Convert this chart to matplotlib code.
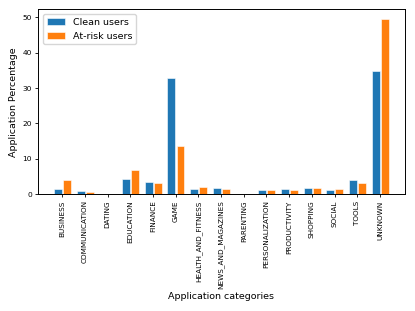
import matplotlib
matplotlib.use("Agg")
import matplotlib.pyplot as plt
import numpy as np

categories = ["BUSINESS", "COMMUNICATION", "DATING", "EDUCATION", "FINANCE", "GAME",
              "HEALTH_AND_FITNESS", "NEWS_AND_MAGAZINES", "PARENTING", "PERSONALIZATION",
              "PRODUCTIVITY", "SHOPPING", "SOCIAL", "TOOLS", "UNKNOWN"]
clean_users = [1.3, 0.85, 0.1, 4.4, 3.3, 32.8, 1.4, 1.6, 0.1, 1.1, 1.3, 1.6, 1.1, 4.0, 34.7]
atrisk_users = [4.0, 0.65, 0.1, 6.8, 3.1, 13.7, 2.0, 1.5, 0.1, 1.05, 1.1, 1.6, 1.4, 3.1, 49.7]

fig = plt.figure(figsize=(4.15, 3.11), dpi=100)
ax = fig.add_axes([0.0916, 0.376, 0.884, 0.594])
x = np.arange(len(categories))
w = 0.35
ax.bar(x - 0.19, clean_users, w, color="#1f77b4", edgecolor="white", linewidth=0.4, label="Clean users")
ax.bar(x + 0.21, atrisk_users, w, color="#ff7f0e", edgecolor="white", linewidth=0.4, label="At-risk users")
ax.set_xticks(x)
ax.set_xticklabels(categories, rotation=90, fontsize=5.2)
ax.tick_params(axis="y", labelsize=5.4)
ax.tick_params(length=2.5, width=0.6, pad=2)
ax.set_xlim(-1.07, 15.1)
ax.set_ylim(0, 52.3)
ax.set_yticks([0, 10, 20, 30, 40, 50])
ax.set_ylabel("Application Percentage", fontsize=6.8, labelpad=3)
ax.set_xlabel("Application categories", fontsize=6.8, labelpad=2)
for s in ax.spines.values():
    s.set_linewidth(0.7)
ax.legend(loc="upper left", fontsize=6.8)
fig.savefig("out.png", dpi=100)
